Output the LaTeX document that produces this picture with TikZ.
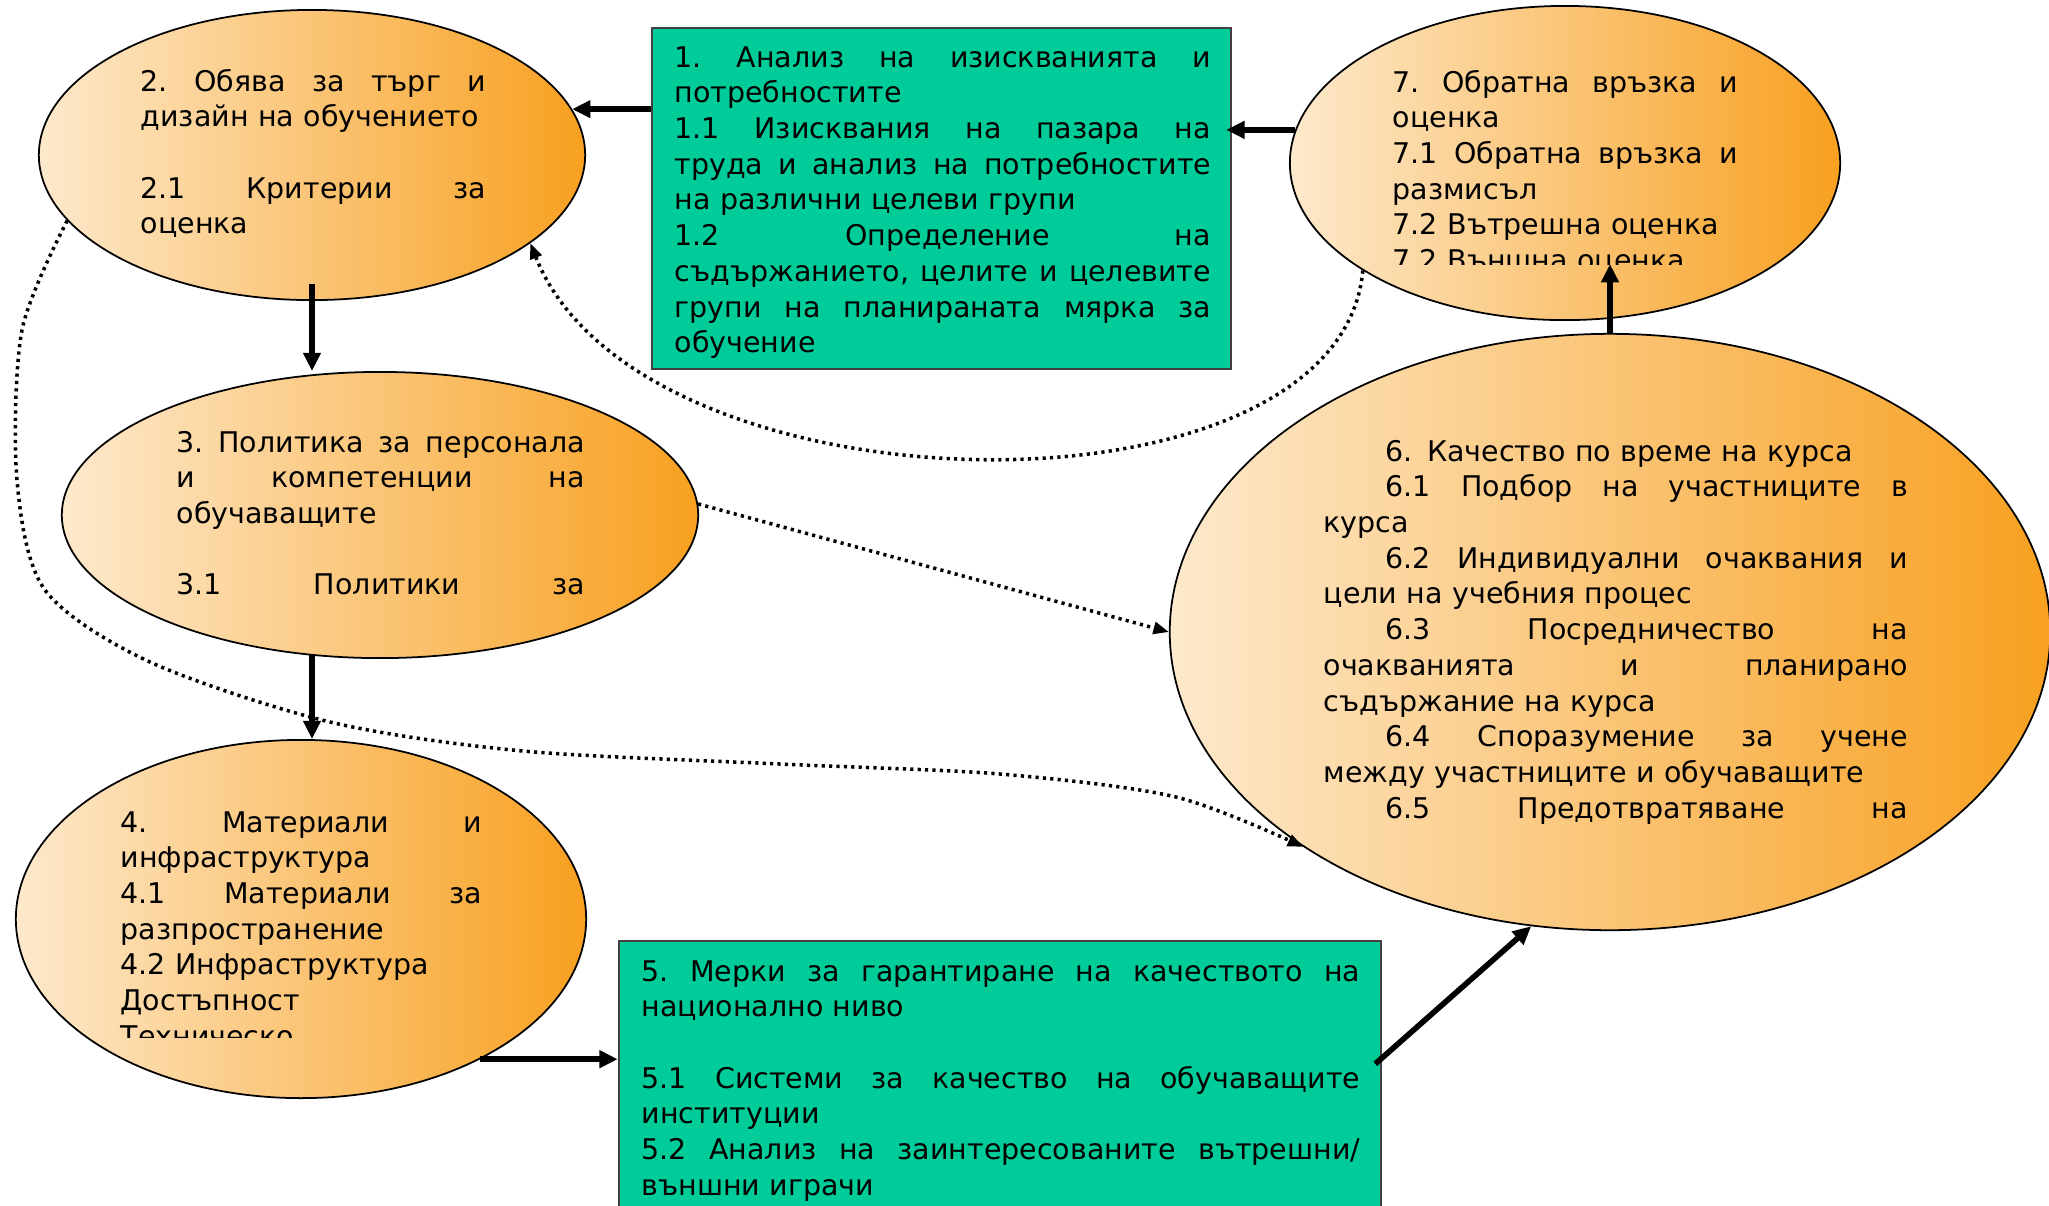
\documentclass[tikz,border=0pt]{standalone}
\usepackage{fontspec}
\setmainfont{DejaVu Sans}
\usetikzlibrary{positioning, arrows.meta, calc, shapes.geometric}

\definecolor{peachL}{RGB}{253,233,204}
\definecolor{peachR}{RGB}{248,160,32}
\definecolor{boxgreen}{RGB}{0,204,153}

% 両端揃えの行（\\ 付き）と字下げ付きの行
\newcommand{\spread}[2]{{\frenchspacing\spaceskip=0.32em plus 1fil\xspaceskip=\spaceskip\makebox[#1][s]{#2}}}
\newcommand{\jl}[1]{\spread{\hsize}{#1}\\}
\newcommand{\ijl}[1]{\hspace*{0.62cm}\spread{\dimexpr\hsize-0.62cm\relax}{#1}\\}
\newcommand{\il}[1]{\hspace*{0.62cm}#1\\}

\begin{document}
\begin{tikzpicture}[
    x=0.01cm, y=-0.01cm,    % 座標はピクセル単位（下向きが正）
    blob/.style={ellipse, draw=black, line width=0.5pt, left color=peachL, right color=peachR, inner sep=0pt},
    greenbox/.style={rectangle, draw=black!75, line width=0.6pt, fill=boxgreen, inner sep=0pt},
    txt/.style={anchor=base west, inner sep=0pt, font=\fontsize{8.1}{10.16}\selectfont},
    flow/.style={-{Triangle[length=5.2pt,width=4.8pt]}, line width=1.6pt},
    feedback/.style={-{Triangle[length=4.4pt,width=3.4pt]}, line width=1pt, dash pattern=on 0.9pt off 1.2pt}
]

    \useasboundingbox (0,0) rectangle (2049,1205);
    \clip (0,0) rectangle (2049,1205);

    % --- 1. 楕円と箱 ---
    \node [greenbox, minimum width=5.79cm, minimum height=3.41cm] (box1) at (941.5,198.5) {};
    \node [blob, minimum width=5.46cm, minimum height=2.90cm] (e2) at (312,155) {};
    \node [blob, minimum width=5.50cm, minimum height=3.14cm] (e7) at (1565,163) {};
    \node [blob, minimum width=6.36cm, minimum height=2.86cm] (e3) at (380,515) {};
    \node [blob, minimum width=5.70cm, minimum height=3.58cm] (e4) at (301,919) {};
    \node [blob, minimum width=8.80cm, minimum height=5.96cm] (e6) at (1610,632) {};
    \node [greenbox, minimum width=7.62cm, minimum height=2.74cm] (box5) at (1000,1078) {};

    % --- 2. 各テキスト ---
    \node [txt, text width=5.36cm] (t1) at (674,67) {%
        \jl{1. Анализ на изискванията и}
        потребностите\\
        \jl{1.1 Изисквания на пазара на}
        \jl{труда и анализ на потребностите}
        на различни целеви групи\\
        \jl{1.2 Определение на}
        \jl{съдържанието, целите и целевите}
        \jl{групи на планираната мярка за}
        обучение};

    \node [txt, text width=3.45cm] (t2) at (140,91) {%
        \jl{2. Обява за търг и}
        дизайн на обучението\\
        \mbox{}\\
        \jl{2.1 Критерии за}
        оценка};

    % 最終行は楕円の中で途中まで切れている
    \begin{scope}
        \clip (1380,0) rectangle (1760,264);
        \node [txt, text width=3.45cm] (t7) at (1392,92) {%
            \jl{7. Обратна връзка и}
            оценка\\
            \jl{7.1 Обратна връзка и}
            размисъл\\
            7.2 Вътрешна оценка\\
            7.2 Външна оценка};
    \end{scope}

    \node [txt, text width=4.08cm] (t3) at (176,452) {%
        \jl{3. Политика за персонала}
        \jl{и компетенции на}
        обучаващите\\
        \mbox{}\\
        \spread{\hsize}{3.1 Политики за}};

    \begin{scope}
        \clip (100,790) rectangle (520,1037);
        \node [txt, text width=3.61cm] (t4) at (120,832) {%
            \jl{4. Материали и}
            инфраструктура\\
            \jl{4.1 Материали за}
            разпространение\\
            4.2 Инфраструктура\\
            Достъпност\\
            Техническо};
    \end{scope}

    \node [txt, text width=7.18cm] (t5) at (641,981) {%
        \jl{5. Мерки за гарантиране на качеството на}
        национално ниво\\
        \mbox{}\\
        \jl{5.1 Системи за качество на обучаващите}
        институции\\
        \jl{5.2 Анализ на заинтересованите вътрешни/}
        външни играчи};

    \node [txt, text width=5.84cm] (t6) at (1323,461) {%
        \il{6. Качество по време на курса}
        \ijl{6.1 Подбор на участниците в}
        курса\\
        \ijl{6.2 Индивидуални очаквания и}
        цели на учебния процес\\
        \ijl{6.3 Посредничество на}
        \jl{очакванията и планирано}
        съдържание на курса\\
        \ijl{6.4 Споразумение за учене}
        между участниците и обучаващите\\
        \hspace*{0.62cm}\spread{\dimexpr\hsize-0.62cm\relax}{6.5 Предотвратяване на}};

    % --- 3. 実線の矢印 ---
    \draw [flow] (box1.west |- e2.10) -- (e2.10);
    \draw [flow] (e7.173) -- ($(e7.173 -| box1.east)+(-6,0)$);
    \draw [flow] ($(e2.south)+(0,-17)$) -- (e2.south |- e3.north);
    \draw [flow] ($(e3.south -| e2.south)+(0,-5)$) -- (e2.south |- e4.north);
    \draw [flow] (e4.322) -- (e4.322 -| box5.west);
    \draw [flow] ($(box5.north east)+(-7,124)$) -- (e6.255);
    \draw [flow] (e6.north) -- ($(e7.south)+(45,-57)$);

    % --- 4. 点線のフィードバック ---
    \draw [feedback] (e7.208) .. controls (1340,530) and (640,520) .. (e2.338);
    \draw [feedback] (e3.2) -- (e6.180);
    \draw [feedback] plot [smooth, tension=0.5] coordinates {
        (e2.195) (22,330) (17,480) (45,590) (150,662) (330,722)
        (523,751) (780,764) (1000,774) (1176,797) (e6.215)
    };

\end{tikzpicture}
\end{document}
